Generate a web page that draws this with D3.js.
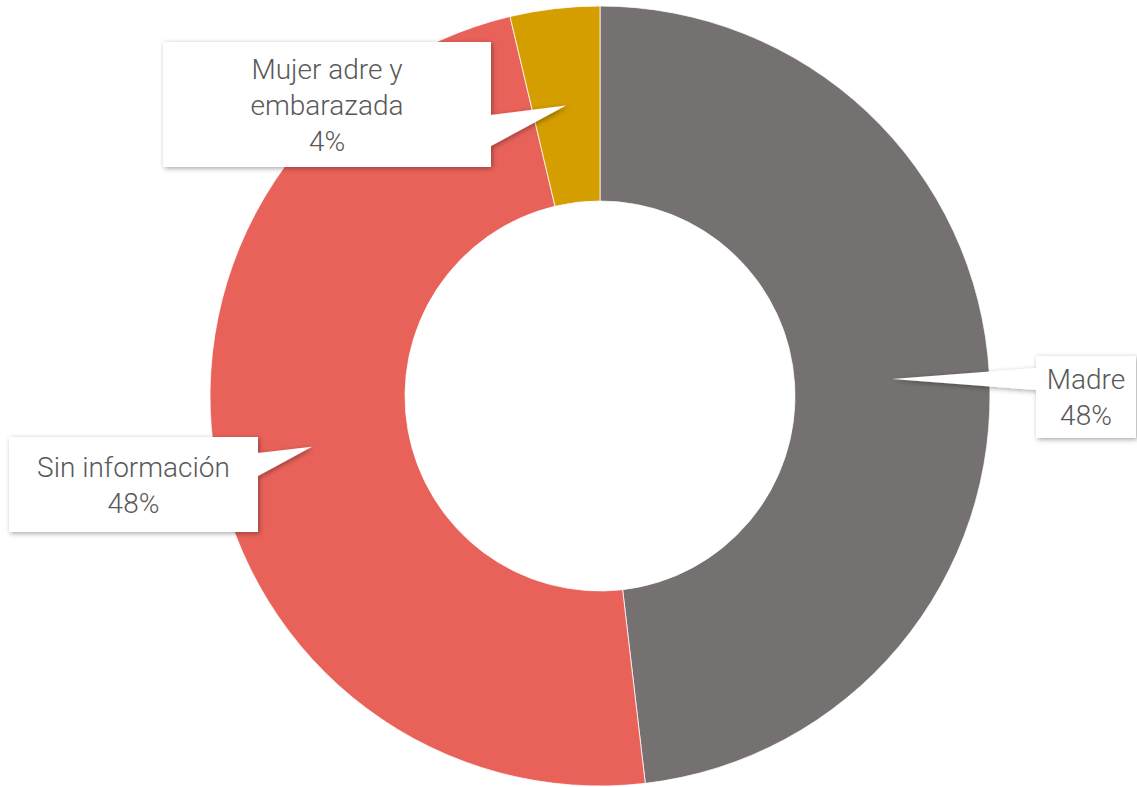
<!DOCTYPE html>
<html>
<head>
<meta charset="utf-8">
<script src="https://cdn.jsdelivr.net/npm/d3@7"></script>
<style>
  body { margin: 0; background: #fff; }
  text { font-family: Roboto, "Noto Sans", sans-serif; fill: #595959; }
</style>
</head>
<body>
<div id="chart"></div>
<script>
(function(){
  var width = 1137,
      height = 787;

  // data
  var categories = ['Madre', 'Sin información', 'Mujer adre y embarazada'];
  var values = [13, 13, 1];
  var labelLines = [['Madre'], ['Sin información'], ['Mujer adre y', 'embarazada']];
  var colors = ['#767171', '#E8625A', '#D49E00'];

  // callout boxes: x, y, w, h, side the pointer leaves from, pointer base y range
  var boxes = [
    {x: 1036, y: 356, w: 100, h: 82, side: 'left', b0: 368, b1: 390},
    {x: 9, y: 437, w: 249, h: 95, side: 'right', b0: 453, b1: 476},
    {x: 163, y: 42, w: 328, h: 125, side: 'right', b0: 115, b1: 146}
  ];

  var cx = 600, cy = 396, outerR = 390, innerR = 195;

  var svg = d3.select('#chart')
    .append('svg')
    .attr('width', width)
    .attr('height', height);

  var defs = svg.append('defs');
  defs.append('filter')
    .attr('id', 'shadow')
    .attr('x', '-10%').attr('y', '-10%')
    .attr('width', '130%').attr('height', '130%')
    .append('feDropShadow')
    .attr('dx', 1.5).attr('dy', 1.5)
    .attr('stdDeviation', 2.5)
    .attr('flood-color', '#000')
    .attr('flood-opacity', 0.35);

  var total = d3.sum(values);

  var pie = d3.pie().sort(null).value(function(d){ return d; });
  var arc = d3.arc().innerRadius(innerR).outerRadius(outerR);

  var arcs = pie(values);

  var g = svg.append('g')
    .attr('transform', 'translate(' + cx + ',' + cy + ')');

  g.selectAll('path.slice')
    .data(arcs)
    .enter().append('path')
    .attr('class', 'slice')
    .attr('d', arc)
    .attr('fill', function(d, i){ return colors[i]; })
    .attr('stroke', '#fff')
    .attr('stroke-width', 0.75);

  // callouts
  var labels = svg.selectAll('g.callout')
    .data(arcs)
    .enter().append('g')
    .attr('class', 'callout');

  labels.append('path')
    .attr('d', function(d, i){
      var b = boxes[i];
      var c = arc.centroid(d);
      var tx = cx + c[0], ty = cy + c[1];
      var x0 = b.x, y0 = b.y, x1 = b.x + b.w, y1 = b.y + b.h;
      var p = d3.path();
      if (b.side === 'right') {
        p.moveTo(x0, y0);
        p.lineTo(x1, y0);
        p.lineTo(x1, b.b0);
        p.lineTo(tx, ty);
        p.lineTo(x1, b.b1);
        p.lineTo(x1, y1);
        p.lineTo(x0, y1);
      } else {
        p.moveTo(x0, y0);
        p.lineTo(x1, y0);
        p.lineTo(x1, y1);
        p.lineTo(x0, y1);
        p.lineTo(x0, b.b1);
        p.lineTo(tx, ty);
        p.lineTo(x0, b.b0);
      }
      p.closePath();
      return p.toString();
    })
    .attr('fill', '#fff')
    .attr('filter', 'url(#shadow)');

  var lineH = 36;
  labels.append('text')
    .attr('text-anchor', 'middle')
    .attr('font-size', 28)
    .attr('font-weight', 300)
    .each(function(d, i){
      var b = boxes[i];
      var lines = labelLines[i].concat([Math.round(d.value / total * 100) + '%']);
      var startY = b.y + b.h / 2 - (lines.length - 1) * lineH / 2 + 10;
      var t = d3.select(this);
      lines.forEach(function(s, k){
        t.append('tspan')
          .attr('x', b.x + b.w / 2)
          .attr('y', startY + k * lineH)
          .text(s);
      });
    });
})()
</script>
</body>
</html>
